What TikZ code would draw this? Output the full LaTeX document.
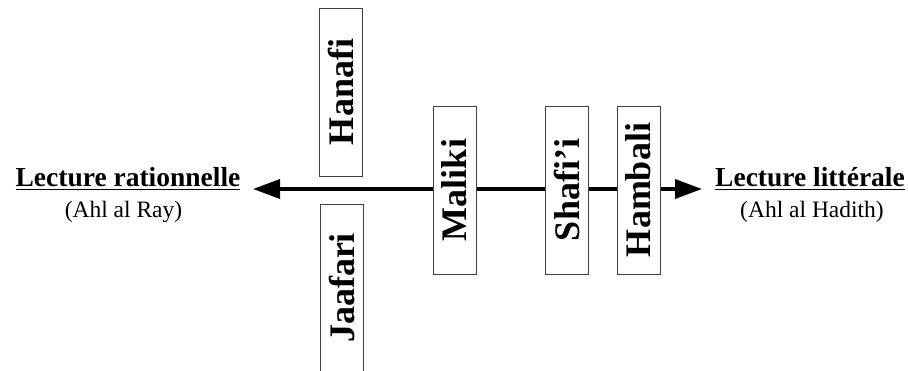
\documentclass[tikz,border=0pt]{standalone}
\usepackage{fontspec}
\setmainfont{Liberation Serif}
\usetikzlibrary{arrows.meta}
\tikzset{
  school/.style={draw=black!75, line width=0.9pt, fill=white, rotate=90,
    minimum height=43pt, inner sep=0pt,
    font=\fontsize{36}{40}\selectfont\bfseries},
  title/.style={anchor=base, inner sep=0pt, font=\fontsize{27.5}{31}\selectfont\bfseries},
  sub/.style={anchor=base, inner sep=0pt, font=\fontsize{23.5}{27}\selectfont},
  axis/.style={line width=3.6pt, {Triangle[length=27pt,width=19pt]}-{Triangle[length=27pt,width=19pt]}}
}
\begin{document}
\begin{tikzpicture}[x=1pt,y=-1pt]
\useasboundingbox (0,0) rectangle (908,371);
\coordinate (lt) at (253,189);
\coordinate (rt) at (702,189);
\draw[axis] (lt) -- (rt);
\node[school, minimum width=168pt] (hanafi) at (341,92) {Hanafi};
\node[school, minimum width=168pt] (jaafari) at (342,288) {Jaafari};
\node[school, minimum width=168pt] (maliki) at (454.5,190) {Maliki};
\node[school, minimum width=168pt] (shafii) at (567,190) {Shafi’i};
\node[school, minimum width=168pt] (hambali) at (638.5,190) {Hambali};
\node[title] (lr) at (128,187) {\underline{Lecture rationnelle}};
\node[sub] (ray) at (123.5,218) {(Ahl al Ray)};
\node[title] (ll) at (810,187) {\underline{Lecture littérale}};
\node[sub] (had) at (812,218) {(Ahl al Hadith)};
\end{tikzpicture}
\end{document}
